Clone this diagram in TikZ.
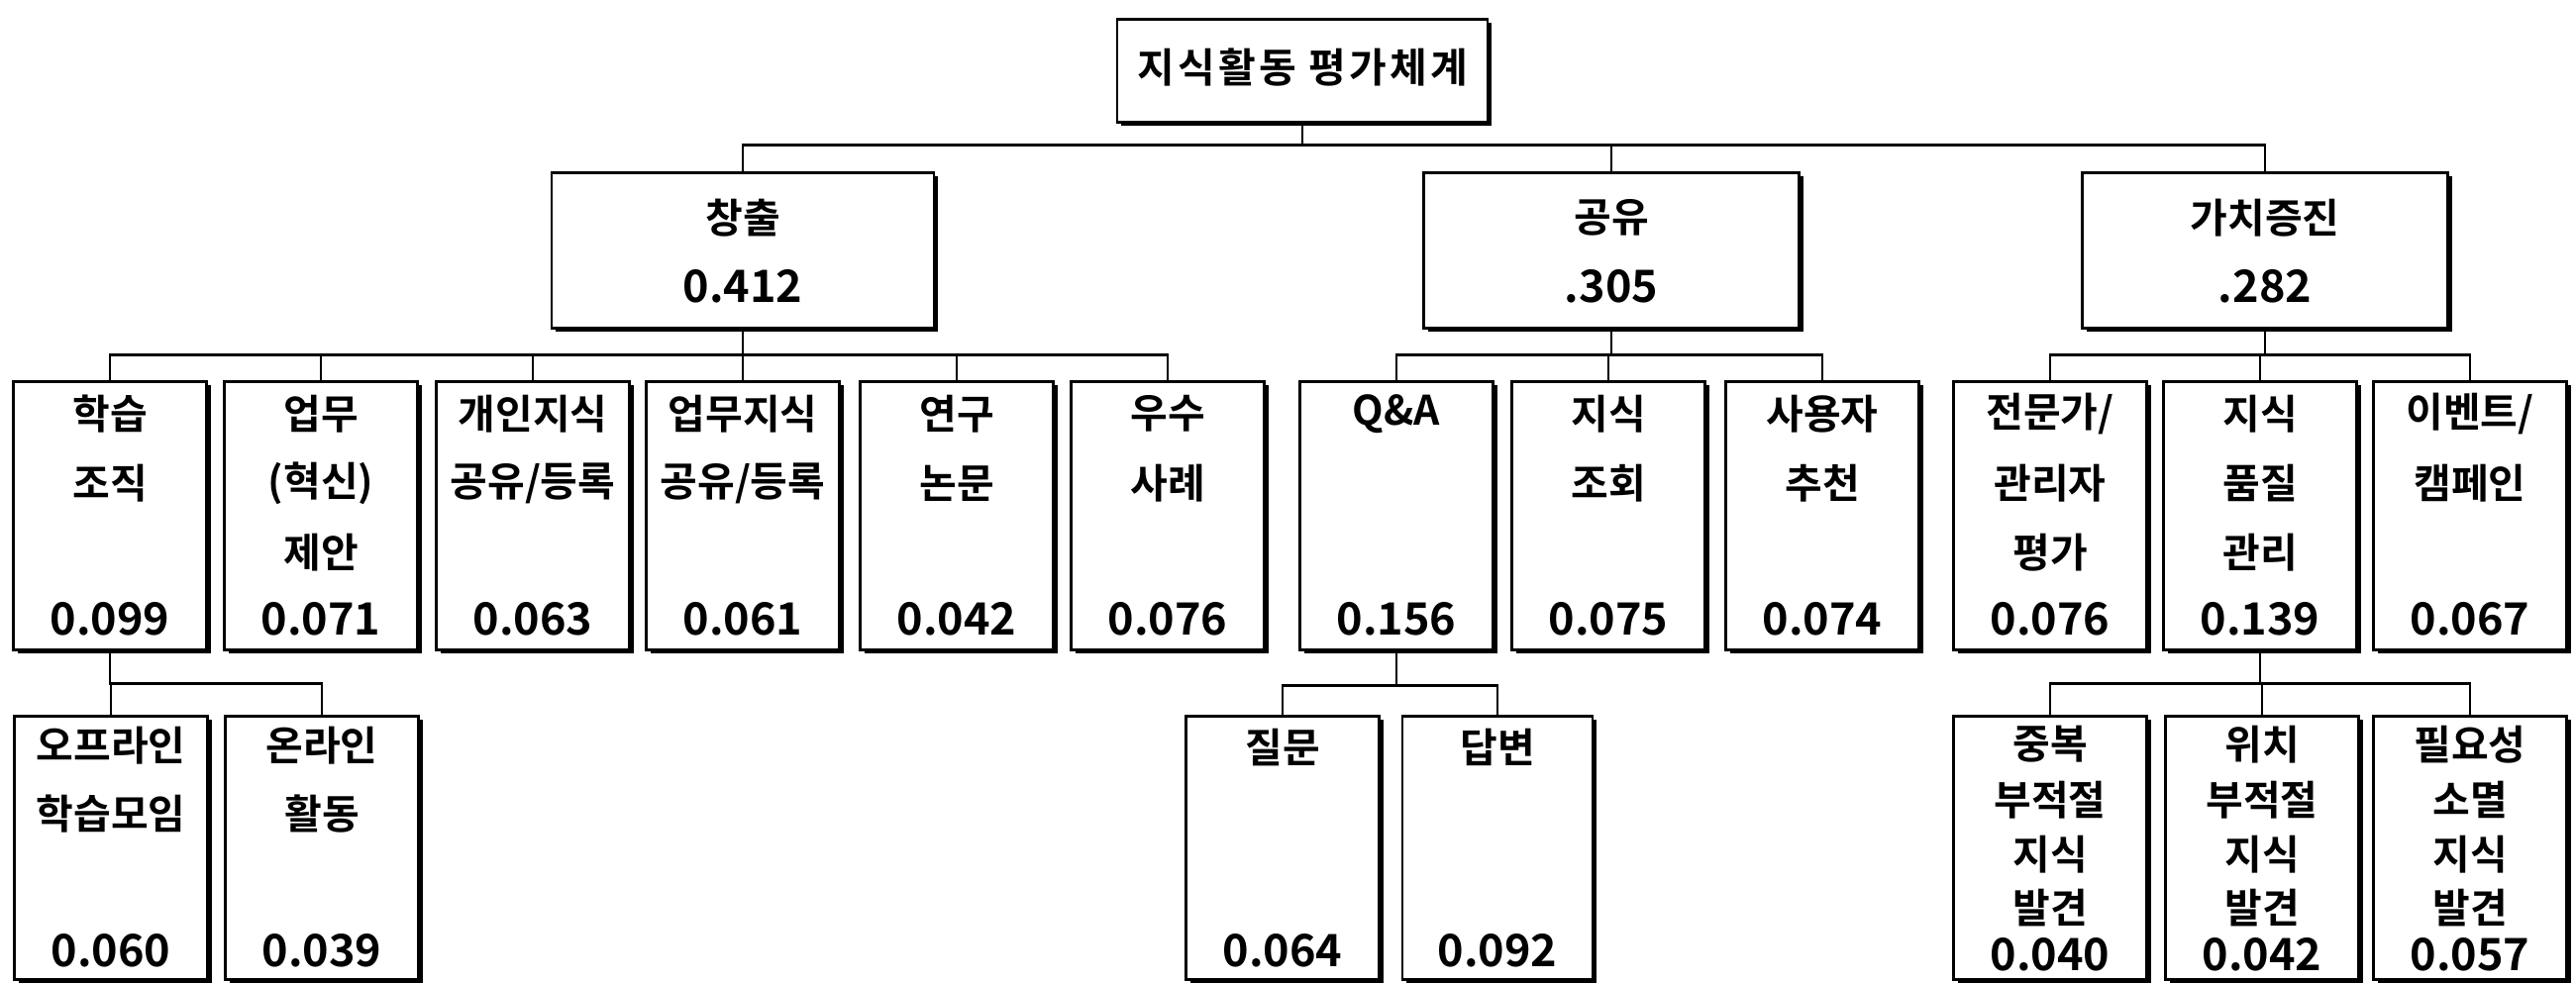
\documentclass[tikz,border=0pt]{standalone}
\usepackage{fontspec}
\setmainfont{Noto Sans CJK KR}[BoldFont={* Bold}]
\usetikzlibrary{shadows}
\newcommand\mybox[6]{\node[box, minimum width=#4, minimum height=#5, anchor=north] (#1) at (#2,#3) {};}
\newcommand\ktx[4]{\node[kt] (#1) at (#2,#3) {#4};}
\newcommand\ntx[4]{\node[nt] (#1) at (#2,#3) {#4};}
\begin{document}
\begin{tikzpicture}[x=0.5pt,y=-0.5pt,
  box/.style={draw=black, line width=1.35pt, fill=white, rectangle, inner sep=0pt,
    drop shadow={shadow xshift=2pt, shadow yshift=-2pt, fill=black, opacity=1}},
  kt/.style={font=\bfseries\fontsize{20.5pt}{21pt}\selectfont, inner sep=0pt},
  tt/.style={font=\bfseries\fontsize{20.5pt}{21pt}\selectfont\addfontfeature{LetterSpace=8}, inner sep=0pt},
  nt/.style={font=\bfseries\fontsize{22.5pt}{23pt}\selectfont, inner sep=0pt},
  conn/.style={line width=1.35pt}]
\useasboundingbox (0,0) rectangle (2601,993);

% title
\mybox{T}{1315}{18}{187pt}{52pt}{}
\node[tt] (Tt) at (1315,68) {지식활동 평가체계};

% level 2
\mybox{A}{750}{173}{193pt}{78.5pt}{}
\ktx{Aa}{750}{220}{창출}
\ntx{An}{750}{289}{0.412}
\mybox{B}{1627}{173}{189.5pt}{78.5pt}{}
\ktx{Ba}{1627}{220}{공유}
\ntx{Bn}{1627}{289}{.305}
\mybox{C}{2287}{173}{184.5pt}{78.5pt}{}
\ktx{Ca}{2287}{220}{가치증진}
\ntx{Cn}{2287}{289}{.282}

% level 3
\mybox{L1}{111}{384}{97.5pt}{135.5pt}{}
\ktx{L1a}{111}{418}{학습}\ktx{L1b}{111}{488}{조직}\ntx{L1n}{111}{625}{0.099}
\mybox{L2}{324}{384}{97.5pt}{135.5pt}{}
\ktx{L2a}{324}{418}{업무}\ktx{L2b}{324}{488}{(혁신)}\ktx{L2c}{324}{558}{제안}\ntx{L2n}{324}{625}{0.071}
\mybox{L3}{538}{384}{97.5pt}{135.5pt}{}
\ktx{L3a}{538}{418}{개인지식}\ktx{L3b}{538}{488}{공유/등록}\ntx{L3n}{538}{625}{0.063}
\mybox{L4}{750}{384}{97.5pt}{135.5pt}{}
\ktx{L4a}{750}{418}{업무지식}\ktx{L4b}{750}{488}{공유/등록}\ntx{L4n}{750}{625}{0.061}
\mybox{L5}{966}{384}{97.5pt}{135.5pt}{}
\ktx{L5a}{966}{418}{연구}\ktx{L5b}{966}{488}{논문}\ntx{L5n}{966}{625}{0.042}
\mybox{L6}{1179}{384}{97.5pt}{135.5pt}{}
\ktx{L6a}{1179}{418}{우수}\ktx{L6b}{1179}{488}{사례}\ntx{L6n}{1179}{625}{0.076}
\mybox{L7}{1410}{384}{97.5pt}{135.5pt}{}
\ktx{L7a}{1410}{418}{Q\&A}\ntx{L7n}{1410}{625}{0.156}
\mybox{L8}{1624}{384}{97.5pt}{135.5pt}{}
\ktx{L8a}{1624}{418}{지식}\ktx{L8b}{1624}{488}{조회}\ntx{L8n}{1624}{625}{0.075}
\mybox{L9}{1840}{384}{97.5pt}{135.5pt}{}
\ktx{L9a}{1840}{418}{사용자}\ktx{L9b}{1840}{488}{추천}\ntx{L9n}{1840}{625}{0.074}
\mybox{L10}{2070}{384}{97.5pt}{135.5pt}{}
\ktx{L10a}{2070}{418}{전문가/}\ktx{L10b}{2070}{488}{관리자}\ktx{L10c}{2070}{558}{평가}\ntx{L10n}{2070}{625}{0.076}
\mybox{L11}{2282}{384}{97.5pt}{135.5pt}{}
\ktx{L11a}{2282}{418}{지식}\ktx{L11b}{2282}{488}{품질}\ktx{L11c}{2282}{558}{관리}\ntx{L11n}{2282}{625}{0.139}
\mybox{L12}{2494}{384}{97.5pt}{135.5pt}{}
\ktx{L12a}{2494}{418}{이벤트/}\ktx{L12b}{2494}{488}{캠페인}\ntx{L12n}{2494}{625}{0.067}

% level 4
\mybox{M1}{112}{722}{97.5pt}{133pt}{}
\ktx{M1a}{112}{753}{오프라인}\ktx{M1b}{112}{822}{학습모임}\ntx{M1n}{112}{960}{0.060}
\mybox{M2}{325}{722}{97.5pt}{133pt}{}
\ktx{M2a}{325}{753}{온라인}\ktx{M2b}{325}{822}{활동}\ntx{M2n}{325}{960}{0.039}
\mybox{Q1}{1295}{722}{97.5pt}{133pt}{}
\ktx{Q1a}{1295}{755}{질문}\ntx{Q1n}{1295}{960}{0.064}
\mybox{Q2}{1512}{722}{96pt}{133pt}{}
\ktx{Q2a}{1512}{755}{답변}\ntx{Q2n}{1512}{960}{0.092}
\mybox{R1}{2070}{722}{97.5pt}{133pt}{}
\ktx{R1a}{2070}{752}{중복}\ktx{R1b}{2070}{808}{부적절}\ktx{R1c}{2070}{863}{지식}\ktx{R1d}{2070}{917}{발견}\ntx{R1n}{2070}{964}{0.040}
\mybox{R2}{2284}{722}{97.5pt}{133pt}{}
\ktx{R2a}{2284}{752}{위치}\ktx{R2b}{2284}{808}{부적절}\ktx{R2c}{2284}{863}{지식}\ktx{R2d}{2284}{917}{발견}\ntx{R2n}{2284}{964}{0.042}
\mybox{R3}{2494}{722}{97.5pt}{133pt}{}
\ktx{R3a}{2494}{752}{필요성}\ktx{R3b}{2494}{808}{소멸}\ktx{R3c}{2494}{863}{지식}\ktx{R3d}{2494}{917}{발견}\ntx{R3n}{2494}{964}{0.057}

% connectors
\foreach \c in {A,B,C} \draw[conn] (T.south) -- ++(0,22) -| (\c.north);
\foreach \c in {L1,L2,L3,L4,L5,L6} \draw[conn] (A.south) -- ++(0,26) -| (\c.north);
\foreach \c in {L7,L8,L9} \draw[conn] (B.south) -- ++(0,26) -| (\c.north);
\foreach \c in {L10,L11,L12} \draw[conn] (C.south) -- ++(0,26) -| (\c.north);
\foreach \c in {M1,M2} \draw[conn] (L1.south) -- ++(0,33) -| (\c.north);
\foreach \c in {Q1,Q2} \draw[conn] (L7.south) -- ++(0,35) -| (\c.north);
\foreach \c in {R1,R2,R3} \draw[conn] (L11.south) -- ++(0,33) -| (\c.north);
\end{tikzpicture}
\end{document}
